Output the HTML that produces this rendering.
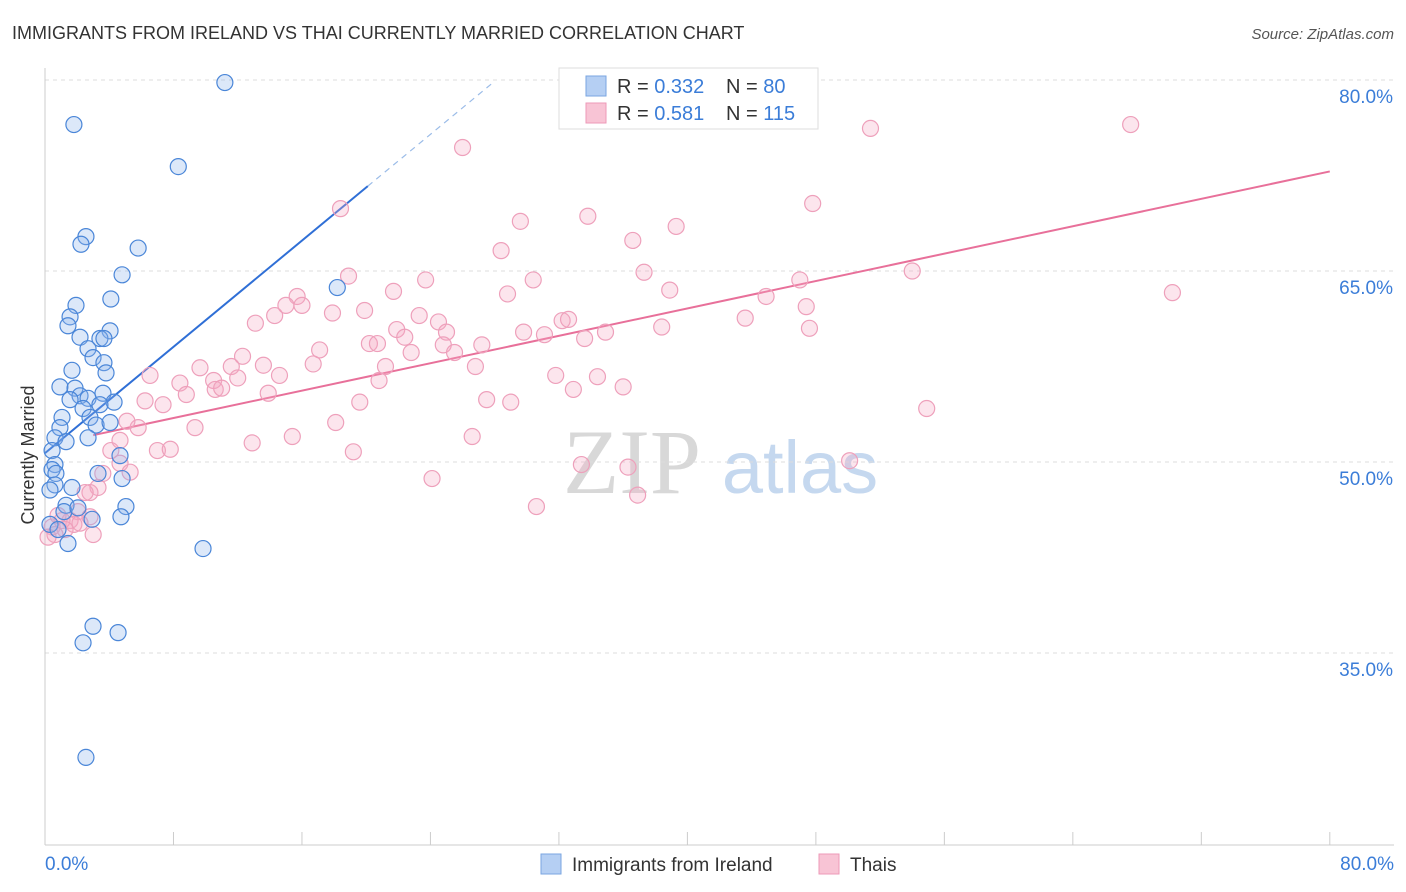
<!DOCTYPE html>
<html><head><meta charset="utf-8"><style>
body{margin:0;background:#fff;font-family:"Liberation Sans",sans-serif;}
#wrap{position:relative;width:1406px;height:892px;overflow:hidden;}
</style></head><body>
<div id="wrap">
<svg id="chart" width="1406" height="892" xmlns="http://www.w3.org/2000/svg">
<text x="12" y="39" font-size="18" fill="#333">IMMIGRANTS FROM IRELAND VS THAI CURRENTLY MARRIED CORRELATION CHART</text>
<text x="1394" y="39" font-size="15" fill="#555" font-style="italic" text-anchor="end">Source: ZipAtlas.com</text>
<text x="34" y="455" font-size="18" fill="#333" text-anchor="middle" transform="rotate(-90 34 455)">Currently Married</text>
<g>
<text x="632" y="493" font-size="92" fill="#d8d8d8" font-family="Liberation Serif,serif" text-anchor="middle">ZIP</text>
<text x="800" y="493" font-size="74" fill="#c5d8ef" text-anchor="middle">atlas</text>
</g>
<g id="grid"></g><g id="axes"></g><g id="lines"></g><g id="pts"></g>
<g>
<rect x="559" y="68" width="259" height="61" fill="#fff" stroke="#ddd"/>
<rect x="586" y="76" width="20" height="20" fill="#b5cff3" stroke="#7aa6e0"/>
<rect x="586" y="103" width="20" height="20" fill="#f8c4d5" stroke="#ee9ab8"/>
<text x="617" y="93" font-size="20" fill="#333">R = <tspan fill="#3b7dd8">0.332</tspan></text>
<text x="726" y="93" font-size="20" fill="#333">N = <tspan fill="#3b7dd8">80</tspan></text>
<text x="617" y="120" font-size="20" fill="#333">R = <tspan fill="#3b7dd8">0.581</tspan></text>
<text x="726" y="120" font-size="20" fill="#333">N = <tspan fill="#3b7dd8">115</tspan></text>
</g>
<g>
<rect x="541" y="854" width="20" height="20" fill="#b5cff3" stroke="#7aa6e0"/>
<text x="572" y="871" font-size="19" fill="#333">Immigrants from Ireland</text>
<rect x="819" y="854" width="20" height="20" fill="#f8c4d5" stroke="#ee9ab8"/>
<text x="850" y="871" font-size="19" fill="#333">Thais</text>
</g>
</svg>
</div>
<script>
const yTicks=[35,50,65,80];
const yTickLabels=["35.0%","50.0%","65.0%","80.0%"];
const xEndLabels=["0.0%","80.0%"];
const blueX=[11.2,1.8,8.3,2.55,2.24,5.8,4.8,4.1,1.93,1.56,1.43,2.18,4.05,3.42,3.67,2.68,2.99,3.67,3.8,1.68,0.93,1.87,3.61,2.18,2.68,4.3,1.56,3.42,2.37,1.06,2.8,3.18,4.05,0.93,0.62,1.31,2.68,0.44,0.62,0.44,0.68,3.3,4.67,4.8,0.62,1.68,0.31,1.31,1.18,2.05,2.93,5.04,4.73,1.43,9.84,2.99,4.55,2.37,2.55,18.2,0.31,0.81];
const blueY=[79.8,76.5,73.2,67.7,67.1,66.8,64.7,62.8,62.3,61.4,60.7,59.8,60.3,59.7,59.7,58.9,58.2,57.8,57.0,57.2,55.9,55.8,55.4,55.2,55.0,54.7,54.9,54.5,54.2,53.5,53.5,52.9,53.1,52.7,51.9,51.6,51.9,50.9,49.8,49.4,49.1,49.1,50.5,48.7,48.2,48.0,47.8,46.6,46.1,46.4,45.5,46.5,45.7,43.6,43.2,37.1,36.6,35.8,26.8,63.7,45.1,44.7];
const pinkX=[51.4,67.6,26.0,47.8,18.4,29.6,33.8,39.3,28.4,36.6,18.9,23.7,30.4,37.3,54.0,70.2,28.8,38.9,44.9,47.0,15.7,14.3,15.0,16.0,17.9,19.9,21.7,23.3,24.5,25.0,13.1,20.2,20.7,21.9,22.4,22.8,24.8,25.5,27.2,29.8,31.1,32.2,32.6,33.6,34.9,38.4,43.6,47.4,47.6,12.3,11.6,13.6,14.6,9.65,8.4,6.54,8.8,10.5,10.6,11.0,12.0,13.9,17.1,16.7,21.2,20.8,19.6,26.8,27.5,29.0,31.8,32.9,34.4,36.0,7.35,6.23,9.34,5.8,5.1,7.0,7.8,12.9,15.4,18.1,19.2,26.6,33.4,36.3,36.9,24.1,30.6,50.1,54.9,4.1,4.67,5.3,3.6,3.3,2.8,2.5,2.05,2.8,1.56,1.8,1.06,0.44,0.81,3.0,1.25,0.62,0.19,2.18,4.67];
const pinkY=[76.2,76.5,74.7,70.3,69.9,68.9,69.3,68.5,66.6,67.4,64.6,64.3,64.3,64.9,65.0,63.3,63.2,63.5,63.0,64.3,63.0,61.5,62.3,62.3,61.7,61.9,63.4,61.5,61.0,60.2,60.9,59.3,59.3,60.4,59.8,58.6,59.2,58.6,59.2,60.2,60.0,61.1,61.2,59.7,60.2,60.6,61.3,62.2,60.5,58.3,57.5,57.6,56.8,57.4,56.2,56.8,55.3,56.4,55.7,55.8,56.6,55.4,58.8,57.7,57.5,56.4,54.7,57.5,54.9,54.7,56.8,55.7,56.7,55.9,54.5,54.8,52.7,52.7,53.2,50.9,51.0,51.5,52.0,53.1,50.8,52.0,49.8,49.6,47.4,48.7,46.5,50.1,54.2,50.9,49.9,49.2,49.1,48.0,47.6,47.6,46.1,45.7,45.4,45.1,45.4,44.9,45.8,44.3,44.7,44.3,44.1,45.2,51.7];
const blueTrend=[50.7,1.043];
const pinkTrend=[51.3,0.269];
const NS="http://www.w3.org/2000/svg";
const X=v=>45+v*16.06, Y=v=>462-(v-50)*12.733;
function mk(tag,attrs,parent){const e=document.createElementNS(NS,tag);for(const k in attrs)e.setAttribute(k,attrs[k]);document.getElementById(parent).appendChild(e);return e;}
yTicks.forEach((t,i)=>{
 const g=mk('line',{x1:45,x2:1394,y1:Y(t),y2:Y(t),stroke:'#ddd','stroke-dasharray':'4,4'},'grid');
 
 
 const l=mk('text',{x:1393,y:Y(t)+23,'font-size':19,fill:'#3b7dd8','text-anchor':'end'},'axes');
 l.textContent=yTickLabels[i];
 
 
});
const ax=mk('line',{x1:45,x2:1394,y1:845,y2:845,stroke:'#ccc'},'axes');


const ay=mk('line',{x1:45,x2:45,y1:68,y2:845,stroke:'#ccc'},'axes');


for(let i=0;i<=10;i++){const t=mk('line',{x1:X(i*8),x2:X(i*8),y1:832,y2:845,stroke:'#ccc'},'axes');
 
 }
[[0,'start',45],[80,'end',1394]].forEach((d,i)=>{const t=mk('text',{x:d[2],y:870,'font-size':19,fill:'#3b7dd8','text-anchor':d[1]},'axes');t.textContent=xEndLabels[i];
 
 });
const bx2=20.1, bx3=28;
const bl=mk('line',{x1:X(0),y1:Y(blueTrend[0]),x2:X(bx2),y2:Y(blueTrend[0]+blueTrend[1]*bx2),stroke:'#2f6fd6','stroke-width':2},'lines');


const bd=mk('line',{x1:X(bx2),y1:Y(blueTrend[0]+blueTrend[1]*bx2),x2:X(bx3),y2:Y(blueTrend[0]+blueTrend[1]*bx3),stroke:'#9bbce8','stroke-width':1.2,'stroke-dasharray':'6,5'},'lines');


const pl=mk('line',{x1:X(3),y1:Y(pinkTrend[0]+pinkTrend[1]*3),x2:X(80),y2:Y(pinkTrend[0]+pinkTrend[1]*80),stroke:'#e8709a','stroke-width':2},'lines');


pinkX.forEach((x,i)=>{const c=mk('circle',{cx:X(x),cy:Y(pinkY[i]),r:8,fill:'rgba(245,170,195,0.3)',stroke:'#eea0bb','stroke-width':1.2},'pts');
 
 });
blueX.forEach((x,i)=>{const c=mk('circle',{cx:X(x),cy:Y(blueY[i]),r:8,fill:'rgba(140,180,235,0.3)',stroke:'#4a86d8','stroke-width':1.2},'pts');
 
 });
</script>
</body></html>
